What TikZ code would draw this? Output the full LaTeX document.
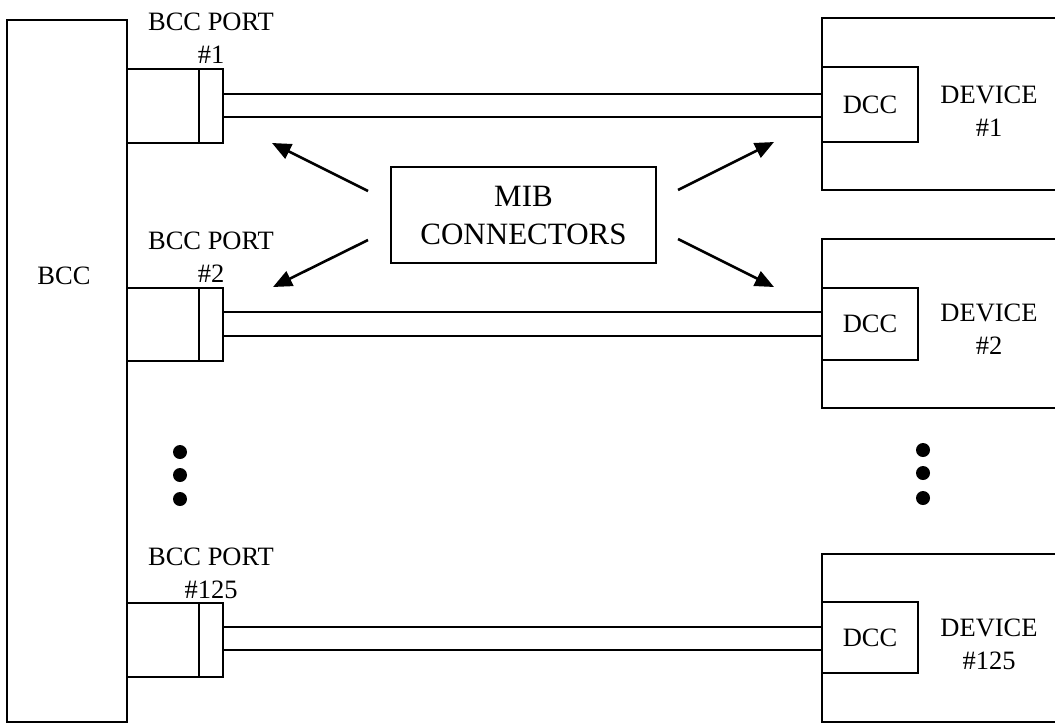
\documentclass[tikz,border=0pt]{standalone}
\usepackage{fontspec}
\setmainfont{Liberation Serif}
\usetikzlibrary{arrows.meta,calc}
\begin{document}
\begin{tikzpicture}[x=1pt,y=-1pt,line width=2.6pt,
  box/.style={draw,line width=2.6pt,inner sep=0pt,outer sep=0pt},
  lbl/.style={inner sep=0pt,font=\fontsize{26.5}{33}\selectfont,align=center},
  ptr/.style={-{Triangle[length=19pt,width=16pt]},line width=2.6pt},
  bigdot/.style={circle,fill,inner sep=0pt,minimum size=14pt}]
\useasboundingbox (0,0) rectangle (1055,724);
\fill[white] (0,0) rectangle (1055,724);

% BCC
\node[box,minimum width=120pt,minimum height=702pt] (bcc) at (67,371) {};
\node[lbl] (bcclbl) at (64,276) {BCC};

% ports
\node[box,minimum width=96pt,minimum height=74pt] (p1) at (175,106) {};
\node[box,minimum width=96pt,minimum height=73pt] (p2) at (175,324.5) {};
\node[box,minimum width=96pt,minimum height=74pt] (p3) at (175,640) {};
\foreach \p in {p1,p2,p3}
  \draw ([xshift=24pt]\p.north) -- ([xshift=24pt]\p.south);
\node[lbl] (p1lbl) at (211,38.5) {BCC PORT\\\#1};
\node[lbl] (p2lbl) at (211,257.5) {BCC PORT\\\#2};
\node[lbl] (p3lbl) at (211,573) {BCC PORT\\\#125};

% devices
\node[box,minimum width=240pt,minimum height=172pt] (d1) at (942,104) {};
\node[box,minimum width=240pt,minimum height=169pt] (d2) at (942,323.5) {};
\node[box,minimum width=240pt,minimum height=168pt] (d3) at (942,638) {};
\node[box,minimum width=96pt,minimum height=75pt,font=\fontsize{26.5}{33}\selectfont] (dcc1) at (870,104.5) {DCC};
\node[box,minimum width=96pt,minimum height=72pt,font=\fontsize{26.5}{33}\selectfont] (dcc2) at (870,324) {DCC};
\node[box,minimum width=96pt,minimum height=71pt,font=\fontsize{26.5}{33}\selectfont] (dcc3) at (870,637.5) {DCC};
\node[lbl] (d1lbl) at (989,111) {DEVICE\\\#1};
\node[lbl] (d2lbl) at (989,329) {DEVICE\\\#2};
\node[lbl] (d3lbl) at (989,644) {DEVICE\\\#125};

% cables
\draw (p1.east |- 0,94) -- (dcc1.west |- 0,94);
\draw (p1.east |- 0,117) -- (dcc1.west |- 0,117);
\draw (p2.east |- 0,312) -- (dcc2.west |- 0,312);
\draw (p2.east |- 0,336) -- (dcc2.west |- 0,336);
\draw (p3.east |- 0,627) -- (dcc3.west |- 0,627);
\draw (p3.east |- 0,650) -- (dcc3.west |- 0,650);

% MIB connectors
\node[box,minimum width=265pt,minimum height=96pt,align=center,
  font=\fontsize{31}{38}\selectfont] (mib) at (523.5,215) {MIB\\CONNECTORS};
\coordinate (t1) at (272,143);
\coordinate (t2) at (273,287);
\coordinate (t3) at (774,142);
\coordinate (t4) at (774,287);
\draw[ptr] ($(mib.west)+(-23,-24)$) -- (t1);
\draw[ptr] ($(mib.west)+(-23,25)$) -- (t2);
\draw[ptr] ($(mib.east)+(22,-25)$) -- (t3);
\draw[ptr] ($(mib.east)+(22,24)$) -- (t4);

% ellipsis dots
\node[bigdot] (l1) at (180,452) {};
\node[bigdot] (l2) at (180,475) {};
\node[bigdot] (l3) at (180,499) {};
\node[bigdot] (r1) at (923,450) {};
\node[bigdot] (r2) at (923,473) {};
\node[bigdot] (r3) at (923,498) {};
\end{tikzpicture}
\end{document}
